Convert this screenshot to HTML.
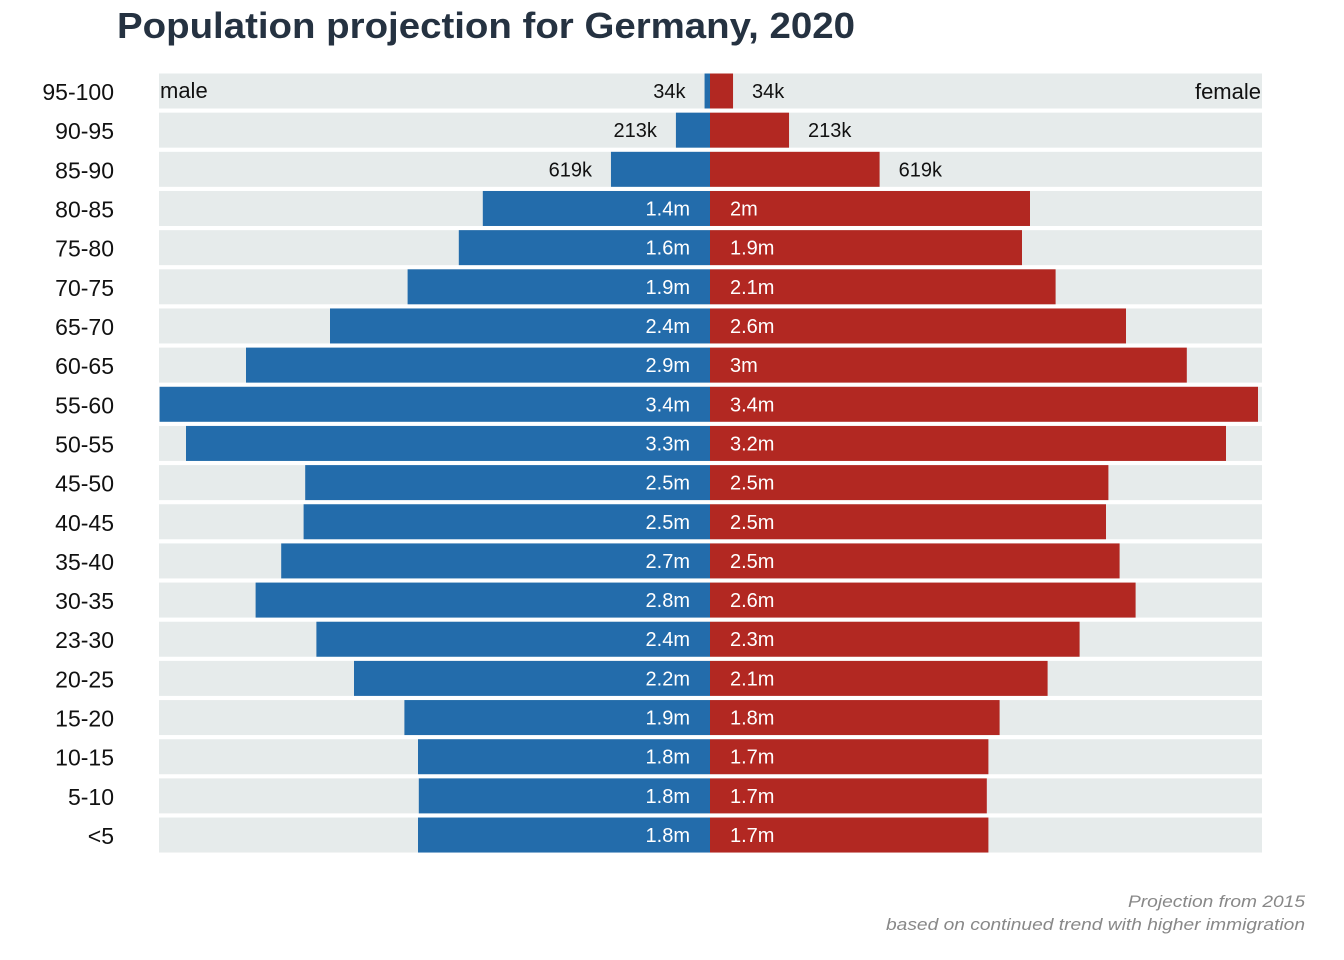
<!DOCTYPE html>
<html><head><meta charset="utf-8">
<style>
html,body{margin:0;padding:0;background:#fff;}
svg{display:block;font-family:"Liberation Sans",Arial,sans-serif;}
</style></head>
<body>
<svg id="chart" width="1344" height="960" viewBox="0 0 1344 960">
<text x="117" y="38" font-size="36" font-weight="bold" fill="#253241" textLength="738" lengthAdjust="spacingAndGlyphs">Population projection for Germany, 2020</text>
<g id="rows"></g>
<text x="160" y="98" font-size="22" fill="#111">male</text>
<text x="1261" y="99" font-size="22" fill="#111" text-anchor="end">female</text>
<text x="1128" y="907" font-size="17" font-style="italic" fill="#888" textLength="177" lengthAdjust="spacingAndGlyphs">Projection from 2015</text>
<text x="886" y="930" font-size="17" font-style="italic" fill="#888" textLength="419" lengthAdjust="spacingAndGlyphs">based on continued trend with higher immigration</text>
</svg>
<script>
const ageGroups = ["95-100","90-95","85-90","80-85","75-80","70-75","65-70","60-65","55-60","50-55","45-50","40-45","35-40","30-35","23-30","20-25","15-20","10-15","5-10","<5"];
const maleValues = [0.034,0.213,0.619,1.42,1.57,1.89,2.375,2.9,3.44,3.275,2.53,2.54,2.68,2.84,2.46,2.225,1.91,1.825,1.82,1.825];
const femaleValues = [0.144,0.494,1.06,2.0,1.95,2.16,2.6,2.98,3.425,3.225,2.49,2.475,2.56,2.66,2.31,2.11,1.81,1.74,1.73,1.74];
const maleLabels = ["34k","213k","619k","1.4m","1.6m","1.9m","2.4m","2.9m","3.4m","3.3m","2.5m","2.5m","2.7m","2.8m","2.4m","2.2m","1.9m","1.8m","1.8m","1.8m"];
const femaleLabels = ["34k","213k","619k","2m","1.9m","2.1m","2.6m","3m","3.4m","3.2m","2.5m","2.5m","2.5m","2.6m","2.3m","2.1m","1.8m","1.7m","1.7m","1.7m"];

const NS = "http://www.w3.org/2000/svg";
const cx = 710, pxPerM = 160, left = 159, right = 1262;
const y0 = 91, pitch = 39.16, bh = 35;
const xScale = v => v * pxPerM;
const yScale = i => y0 + i * pitch;
const g = document.getElementById("rows");
function mk(tag, attrs){const e=document.createElementNS(NS,tag);for(const k in attrs)e.setAttribute(k,attrs[k]);g.appendChild(e);return e;}

ageGroups.forEach((age,i)=>{
  const yc = yScale(i), top = yc - bh/2;
  const bg = mk("rect",{x:left,y:top,width:right-left,height:bh,fill:"#E6EBEB"});
  
  
  const mw = xScale(maleValues[i]);
  const mb = mk("rect",{x:cx-mw,y:top,width:mw,height:bh,fill:"#236CAB"});
  
  
  const fw = xScale(femaleValues[i]);
  const fb = mk("rect",{x:cx,y:top,width:fw,height:bh,fill:"#B22822"});
  
  
  const yl = mk("text",{x:114,y:yc+9,"font-size":23,"text-anchor":"end",fill:"#111"});
  yl.textContent = age;
  
  
  const inside = mw > 120;
  const ml = mk("text",{x: inside ? cx-20 : cx-mw-19, y:yc+7,"font-size":20,"text-anchor":"end",fill: inside?"#fff":"#111"});
  ml.textContent = maleLabels[i];
  
  
  const fInside = fw > 200;
  const fl = mk("text",{x: fInside ? cx+20 : cx+fw+19, y:yc+7,"font-size":20,fill: fInside?"#fff":"#111"});
  fl.textContent = femaleLabels[i];
  
  
});
</script>
</body></html>
